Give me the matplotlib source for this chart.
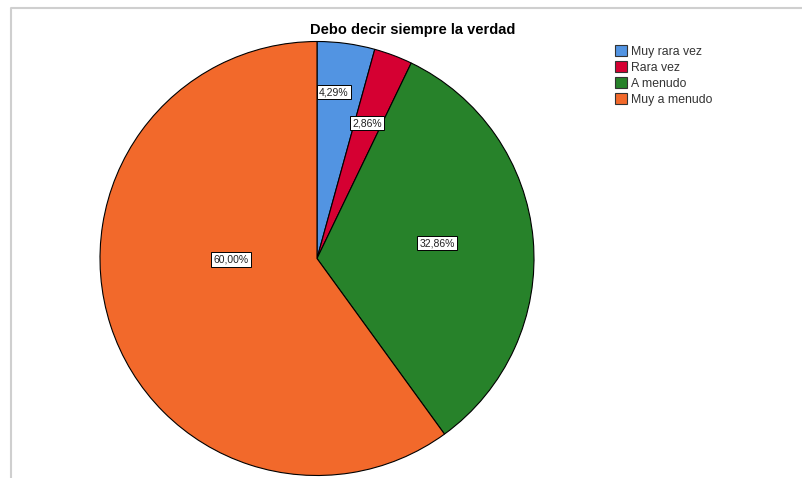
import matplotlib
matplotlib.use('Agg')
import matplotlib.pyplot as plt
from matplotlib.patches import Rectangle

plt.rcParams['font.family'] = ['Liberation Sans', 'DejaVu Sans']

# Data
categories = ['Muy rara vez', 'Rara vez', 'A menudo', 'Muy a menudo']
percentages = [4.29, 2.86, 32.86, 60.00]
colors = ['#5294E2', '#D50032', '#27822A', '#F2692B']
title = 'Debo decir siempre la verdad'

# label anchor points (pixels, y measured up from bottom)
label_pos = [(334, 386), (367, 355), (437, 235), (231, 218.5)]

W, H = 802, 478
fig = plt.figure(figsize=(W / 100, H / 100), dpi=100)
ax = fig.add_axes([0, 0, 1, 1])

center = (317, H - 258.5)
radius = 217
wedges, _ = ax.pie(percentages, colors=colors, startangle=90, counterclock=False,
                   center=center, radius=radius,
                   wedgeprops=dict(edgecolor='black', linewidth=0.8))

for pct, (x, y) in zip(percentages, label_pos):
    ax.text(x, y, f'{pct:.2f}%'.replace('.', ','), fontsize=7.5, ha='center', va='center',
            color='#222222',
            bbox=dict(boxstyle='square,pad=0.2', facecolor='white', edgecolor='black', linewidth=0.7))

ax.text(413, H - 30, title, fontsize=10.5, fontweight='bold', ha='center', va='center')

# legend
handles = [Rectangle((0, 0), 1, 1, facecolor=c, edgecolor='#333333', linewidth=0.8) for c in colors]
leg = ax.legend(handles, categories, loc='upper left', bbox_to_anchor=(615 / W, 1 - 45 / H),
                frameon=False, fontsize=8.8, handlelength=1.0, handleheight=1.0,
                handletextpad=0.3, labelspacing=0.28, borderpad=0.0, borderaxespad=0.0)
for t in leg.get_texts():
    t.set_color('#333333')

# outer frame lines
ax.plot([10.5, 10.5, W], [0, H - 7.5, H - 7.5], color='#cfcfcf', linewidth=1.5)

ax.set_xlim(0, W)
ax.set_ylim(0, H)
ax.set_aspect('equal')
ax.axis('off')

fig.savefig('out.png', dpi=100)
